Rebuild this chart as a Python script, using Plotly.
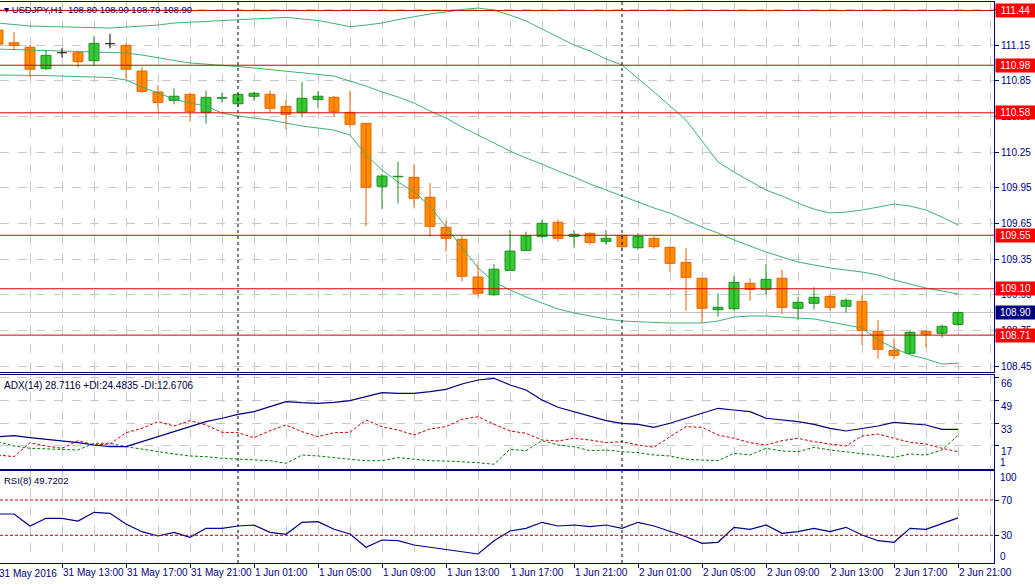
import pandas as pd
import plotly.graph_objects as go
from plotly.subplots import make_subplots

# USDJPY H1 from 31 May 09:00 to 2 Jun 21:00 (61 bars)
times = pd.date_range("2016-05-31 09:00", periods=61, freq="h")

opens = [111.276, 111.169, 111.131, 110.951, 111.085, 111.085, 111.018, 111.161, 111.147, 110.931,
         110.755, 110.685, 110.735, 110.584, 110.703, 110.656, 110.719, 110.735, 110.634, 110.584,
         110.693, 110.710, 110.584, 110.491, 109.962, 110.042, 110.037, 109.869, 109.617, 109.516,
         109.199, 109.050, 109.255, 109.423, 109.541, 109.659, 109.541, 109.566, 109.499, 109.549,
         109.445, 109.524, 109.448, 109.322, 109.188, 108.924, 108.932, 109.146, 109.095, 109.188,
         108.936, 108.978, 109.036, 108.953, 108.994, 108.742, 108.582, 108.557, 108.742, 108.725,
         108.800]
highs = [111.290, 111.259, 111.150, 111.108, 111.127, 111.102, 111.226, 111.243, 111.164, 110.962,
         110.811, 110.786, 110.744, 110.766, 110.749, 110.744, 110.757, 110.766, 110.687, 110.839,
         110.763, 110.721, 110.766, 110.491, 110.065, 110.166, 110.143, 109.989, 109.672, 109.544,
         109.314, 109.306, 109.594, 109.580, 109.678, 109.684, 109.594, 109.575, 109.594, 109.560,
         109.566, 109.544, 109.460, 109.443, 109.196, 109.064, 109.207, 109.188, 109.308, 109.258,
         109.028, 109.112, 109.045, 109.020, 109.045, 108.837, 108.683, 108.753, 108.750, 108.800,
         108.900]
lows = [111.150, 111.108, 110.878, 110.940, 111.047, 110.959, 110.973, 111.122, 110.866, 110.749,
        110.597, 110.651, 110.505, 110.491, 110.665, 110.630, 110.682, 110.584, 110.441, 110.542,
        110.618, 110.542, 110.454, 109.628, 109.773, 109.819, 109.785, 109.538, 109.412, 109.163,
        109.033, 109.041, 109.249, 109.417, 109.527, 109.496, 109.445, 109.470, 109.470, 109.430,
        109.430, 109.437, 109.243, 108.915, 108.809, 108.865, 108.918, 108.999, 109.050, 108.888,
        108.837, 108.927, 108.920, 108.899, 108.629, 108.512, 108.507, 108.548, 108.608, 108.690,
        108.790]
closes = [111.158, 111.147, 110.946, 111.063, 111.085, 111.010, 111.164, 111.161, 110.946, 110.760,
          110.668, 110.719, 110.592, 110.710, 110.707, 110.735, 110.744, 110.618, 110.567, 110.702,
          110.719, 110.592, 110.483, 109.953, 110.048, 110.046, 109.861, 109.625, 109.524, 109.205,
          109.062, 109.264, 109.417, 109.546, 109.650, 109.524, 109.558, 109.490, 109.524, 109.454,
          109.541, 109.454, 109.314, 109.196, 108.936, 108.944, 109.154, 109.095, 109.179, 108.944,
          108.986, 109.028, 108.944, 109.003, 108.750, 108.591, 108.540, 108.734, 108.717, 108.784,
          108.900]

# Bollinger bands
bb_upper = [111.335, 111.322, 111.310, 111.306, 111.301, 111.299, 111.296, 111.293, 111.300, 111.306,
            111.318, 111.335, 111.341, 111.348, 111.356, 111.360, 111.369, 111.377, 111.383, 111.369,
            111.356, 111.331, 111.304, 111.318, 111.335, 111.364, 111.390, 111.411, 111.428, 111.449,
            111.461, 111.444, 111.402, 111.352, 111.285, 111.217, 111.150, 111.100, 111.032, 110.982,
            110.872, 110.755, 110.638, 110.519, 110.343, 110.166, 110.082, 110.006, 109.930, 109.880,
            109.821, 109.770, 109.737, 109.745, 109.762, 109.787, 109.812, 109.796, 109.762, 109.703,
            109.636]
bb_middle = [111.116, 111.112, 111.108, 111.104, 111.099, 111.095, 111.091, 111.087, 111.083, 111.066,
             111.041, 111.020, 110.999, 110.990, 110.982, 110.969, 110.957, 110.944, 110.931, 110.919,
             110.906, 110.889, 110.847, 110.805, 110.755, 110.713, 110.662, 110.595, 110.536, 110.460,
             110.393, 110.326, 110.259, 110.200, 110.149, 110.090, 110.040, 109.981, 109.930, 109.880,
             109.829, 109.779, 109.737, 109.678, 109.619, 109.569, 109.510, 109.460, 109.409, 109.367,
             109.325, 109.300, 109.275, 109.258, 109.241, 109.216, 109.174, 109.140, 109.106, 109.081,
             109.056]
bb_lower = [110.898, 110.898, 110.898, 110.893, 110.889, 110.885, 110.881, 110.877, 110.856, 110.797,
            110.746, 110.695, 110.662, 110.637, 110.578, 110.553, 110.536, 110.519, 110.494, 110.469,
            110.452, 110.435, 110.393, 110.225, 110.099, 109.998, 109.914, 109.796, 109.620, 109.443,
            109.275, 109.157, 109.090, 109.031, 108.981, 108.930, 108.897, 108.871, 108.846, 108.829,
            108.821, 108.817, 108.812, 108.812, 108.812, 108.829, 108.862, 108.871, 108.871, 108.862,
            108.854, 108.846, 108.821, 108.795, 108.770, 108.669, 108.602, 108.543, 108.510, 108.467,
            108.475]

# ADX(14)
adx = [23.42, 24.14, 22.71, 21.57, 20.35, 19.14, 17.50, 16.28, 16.28, 19.85,
       23.92, 26.99, 31.07, 34.14, 36.57, 39.42, 41.28, 44.85, 48.42, 47.71,
       47.28, 48.00, 49.14, 52.00, 54.85, 54.42, 54.42, 55.57, 57.28, 61.07,
       63.92, 65.14, 60.35, 56.78, 49.64, 44.42, 41.28, 38.21, 34.85, 33.00,
       32.28, 30.14, 33.00, 36.57, 40.14, 43.71, 42.50, 41.28, 36.57, 35.35,
       34.14, 32.28, 29.42, 27.50, 29.42, 31.07, 33.71, 32.50, 31.78, 28.71,
       28.71]
plus_di = [19.85, 16.78, 15.14, 14.64, 14.64, 13.92, 18.71, 18.71, 16.28, 14.42,
           12.71, 11.07, 9.64, 9.14, 8.00, 7.50, 6.78, 6.28, 4.42, 10.35,
           9.64, 8.71, 7.28, 6.28, 6.28, 8.42, 7.28, 6.28, 6.07, 5.57,
           4.85, 3.71, 14.42, 13.42, 20.57, 17.50, 16.28, 13.42, 13.92, 12.71,
           12.00, 10.35, 9.64, 7.28, 6.78, 6.28, 11.57, 10.35, 15.14, 13.21,
           12.71, 15.85, 13.92, 12.71, 11.57, 10.35, 8.71, 11.07, 10.35, 13.92,
           24.48]
minus_di = [10.35, 9.14, 19.14, 16.78, 15.14, 20.57, 17.50, 18.21, 26.28, 29.42,
            34.14, 31.07, 34.85, 31.78, 26.57, 26.28, 22.71, 27.71, 31.78, 27.00,
            23.42, 26.28, 26.57, 35.35, 30.57, 28.21, 24.64, 28.92, 30.57, 35.85,
            37.71, 32.28, 27.50, 25.85, 21.07, 20.35, 22.28, 21.07, 19.14, 19.85,
            17.50, 15.85, 23.42, 30.57, 30.14, 24.64, 22.28, 19.14, 17.50, 20.57,
            22.28, 19.85, 18.21, 16.78, 23.92, 25.35, 22.28, 19.42, 18.21, 15.14,
            12.67]

# RSI(8)
rsi = [54.14, 54.14, 40.54, 49.26, 49.26, 46.20, 56.06, 54.93, 42.81, 34.08,
       29.21, 33.40, 27.74, 37.93, 37.93, 40.54, 41.67, 33.40, 31.13, 44.73,
       45.41, 36.80, 31.47, 16.41, 24.68, 23.88, 19.01, 16.41, 13.35, 10.74,
       8.81, 23.88, 34.87, 37.93, 44.73, 40.54, 41.67, 39.75, 41.67, 37.93,
       44.73, 40.54, 34.08, 28.41, 20.94, 22.07, 39.07, 36.80, 41.67, 32.27,
       34.08, 37.93, 34.08, 39.07, 30.34, 23.88, 22.07, 37.93, 36.80, 43.60,
       49.72]

levels = [111.44, 110.98, 110.58, 109.55, 109.10, 108.71]
bid = 108.90
day_breaks = ["2016-06-01 00:00", "2016-06-02 00:00"]
rsi_levels = [70, 30]

tick_text = ["31 May 2016", "31 May 13:00", "31 May 17:00", "31 May 21:00",
             "1 Jun 01:00", "1 Jun 05:00", "1 Jun 09:00", "1 Jun 13:00",
             "1 Jun 17:00", "1 Jun 21:00", "2 Jun 01:00", "2 Jun 05:00",
             "2 Jun 09:00", "2 Jun 13:00", "2 Jun 17:00", "2 Jun 21:00"]
tick_times = times[::4]

NAVY = "#000080"
GRID = "#c8c8c8"
FONT = "Liberation Sans"
hour = pd.Timedelta(hours=1)

fig = make_subplots(rows=3, cols=1, shared_xaxes=True, vertical_spacing=0.005)

bull = [i for i in range(len(times)) if closes[i] > opens[i]]
bear = [i for i in range(len(times)) if closes[i] < opens[i]]
doji = [i for i in range(len(times)) if closes[i] == opens[i]]


def wick_xy(idx):
    xs, ys = [], []
    for i in idx:
        xs += [times[i], times[i], None]
        ys += [lows[i], highs[i], None]
    return xs, ys


# bollinger bands behind the candles
for band in (bb_upper, bb_middle, bb_lower):
    fig.add_trace(go.Scatter(x=times, y=band, mode="lines",
                             line=dict(color="#3cb371", width=1), hoverinfo="skip"),
                  row=1, col=1)

for idx, fill, edge in ((bull, "#33cc33", "#1f8a1f"), (bear, "#ff8c00", "#e86100")):
    wx, wy = wick_xy(idx)
    fig.add_trace(go.Scatter(x=wx, y=wy, mode="lines", line=dict(color=edge, width=1),
                             hoverinfo="skip"), row=1, col=1)
    fig.add_trace(go.Bar(x=[times[i] for i in idx],
                         y=[abs(closes[i] - opens[i]) for i in idx],
                         base=[min(opens[i], closes[i]) for i in idx],
                         width=0.62 * 3600000,
                         marker=dict(color=fill, line=dict(color=edge, width=1)),
                         hoverinfo="skip"), row=1, col=1)

# doji crosses in black
wx, wy = wick_xy(doji)
for i in doji:
    wx += [times[i] - 0.31 * hour, times[i] + 0.31 * hour, None]
    wy += [opens[i], opens[i], None]
fig.add_trace(go.Scatter(x=wx, y=wy, mode="lines", line=dict(color="black", width=1),
                         hoverinfo="skip"), row=1, col=1)

# ADX panel
fig.add_trace(go.Scatter(x=times, y=minus_di, mode="lines",
                         line=dict(color="#cc0000", width=1, dash="3px,2px"), hoverinfo="skip"),
              row=2, col=1)
fig.add_trace(go.Scatter(x=times, y=plus_di, mode="lines",
                         line=dict(color="#008000", width=1, dash="3px,2px"), hoverinfo="skip"),
              row=2, col=1)
fig.add_trace(go.Scatter(x=times, y=adx, mode="lines",
                         line=dict(color=NAVY, width=1.2), hoverinfo="skip"),
              row=2, col=1)

# RSI panel
fig.add_trace(go.Scatter(x=times, y=rsi, mode="lines",
                         line=dict(color=NAVY, width=1.2), hoverinfo="skip"),
              row=3, col=1)

XD = [0, 0.9604]
xcommon = dict(
    domain=XD, range=["2016-05-31 09:07:30", "2016-06-02 23:15"], automargin=False,
    showline=True, linecolor=NAVY, linewidth=1, mirror=True,
    tickvals=tick_times, showgrid=True, gridcolor=GRID, griddash="dash", gridwidth=1,
    minor=dict(dtick=7200000, tick0="2016-05-31 09:00", showgrid=True,
               gridcolor=GRID, griddash="dash", gridwidth=1),
    zeroline=False,
)
fig.update_xaxes(**xcommon)
fig.update_xaxes(showticklabels=False, ticks="", row=1, col=1)
fig.update_xaxes(showticklabels=False, ticks="", row=2, col=1)
fig.update_xaxes(ticktext=tick_text, ticks="outside", ticklen=4, tickcolor=NAVY,
                 ticklabelposition="outside right", tickangle=0,
                 tickfont=dict(family=FONT, size=10, color=NAVY), row=3, col=1)

ycommon = dict(side="right", showline=True, linecolor=NAVY, linewidth=1, mirror=True,
               ticks="outside", ticklen=4, tickcolor=NAVY, zeroline=False, automargin=False,
               tickfont=dict(family=FONT, size=10, color=NAVY),
               gridcolor=GRID, griddash="dash", gridwidth=1)
fig.update_yaxes(**ycommon)
fig.update_yaxes(domain=[0.3641, 0.9966], range=[108.400, 111.512],
                 tick0=108.45, dtick=0.30, tickformat=".2f", row=1, col=1)
# MT4 prints the ADX window labels a few pixels below their ticks
fig.update_yaxes(domain=[0.1983, 0.3590], range=[0.35, 67.5],
                 tickvals=[17, 33, 49, 66], ticklabelshift=6, row=2, col=1)
fig.update_yaxes(domain=[0.0376, 0.1949], range=[-1.4, 102.9],
                 tickvals=[30, 70], showgrid=False, row=3, col=1)

shapes = []
for d in day_breaks:
    shapes.append(dict(type="line", xref="x", yref="paper", x0=d, x1=d, y0=0.0376, y1=0.9966,
                       line=dict(color="black", width=1, dash="3px,3px")))
shapes.append(dict(type="line", xref="paper", yref="y", x0=0, x1=XD[1], y0=bid, y1=bid,
                   line=dict(color="#c0c0c0", width=1), layer="below"))
for lv in levels:
    shapes.append(dict(type="line", xref="paper", yref="y", x0=0, x1=XD[1], y0=lv, y1=lv,
                       line=dict(color="#d00000", width=1)))
for lv in rsi_levels:
    shapes.append(dict(type="line", xref="paper", yref="y3", x0=0, x1=XD[1], y0=lv, y1=lv,
                       line=dict(color="#c00000", width=1, dash="3px,2px")))

annotations = []
for lv in levels:
    annotations.append(dict(xref="paper", yref="y", x=0.9613, y=lv, xanchor="left",
                            yanchor="middle", text=f"{lv:.2f}", showarrow=False,
                            bgcolor="#ff0000", width=37, borderpad=1,
                            font=dict(family=FONT, size=10, color="white")))
annotations.append(dict(xref="paper", yref="y", x=0.9613, y=bid, xanchor="left",
                        yanchor="middle", text=f"{bid:.2f}", showarrow=False,
                        bgcolor=NAVY, width=37, borderpad=1,
                        font=dict(family=FONT, size=10, color="white")))
annotations += [
    dict(xref="paper", yref="paper", x=0.002, y=0.9846, xanchor="left", yanchor="middle",
         showarrow=False, text="▾ USDJPY,H1  108.80 108.90 108.79 108.90",
         font=dict(family=FONT, size=9.5, color="#000060")),
    dict(xref="paper", yref="paper", x=0.002, y=1 - 385 / 585, xanchor="left", yanchor="middle",
         showarrow=False, text="ADX(14) 28.7116 +DI:24.4835 -DI:12.6706",
         font=dict(family=FONT, size=10, color="#000040")),
    dict(xref="paper", yref="paper", x=0.002, y=1 - 480 / 585, xanchor="left", yanchor="middle",
         showarrow=False, text="RSI(8) 49.7202",
         font=dict(family=FONT, size=9.5, color="#000040")),
    dict(xref="paper", yref="paper", x=-0.003, y=1 - 573 / 585, xanchor="left", yanchor="middle",
         showarrow=False, text=tick_text[0], font=dict(family=FONT, size=10, color=NAVY)),
    dict(xref="paper", yref="y2", x=0.9643, y=1, yshift=6, xanchor="left", yanchor="middle",
         showarrow=False, text="1", font=dict(family=FONT, size=10, color=NAVY)),
    dict(xref="paper", yref="y3", x=0.9643, y=95.3, xanchor="left", yanchor="middle",
         showarrow=False, text="100", font=dict(family=FONT, size=10, color=NAVY)),
    dict(xref="paper", yref="y3", x=0.9643, y=5.8, xanchor="left", yanchor="middle",
         showarrow=False, text="0", font=dict(family=FONT, size=10, color=NAVY)),
]

fig.update_layout(
    width=1035, height=585, margin=dict(l=0, r=0, t=0, b=0),
    paper_bgcolor="white", plot_bgcolor="white",
    showlegend=False, barmode="overlay", hovermode=False,
    shapes=shapes, annotations=annotations,
    font=dict(family=FONT, size=10, color=NAVY),
)

# the page body has a default 8px margin; drop it so the chart sits at 0,0
fig.write_html("out.html", config={"displayModeBar": False},
               post_script="document.body.style.margin='0';")
